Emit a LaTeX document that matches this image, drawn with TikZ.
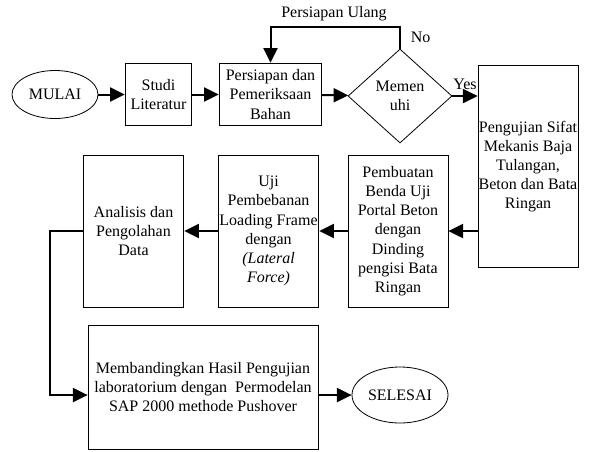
\documentclass[tikz,border=0pt]{standalone}
\usepackage{fontspec}
\setmainfont{Liberation Serif}
\usetikzlibrary{positioning, arrows.meta, shapes.geometric, calc}
\definecolor{garisHitam}{RGB}{0, 0, 0}
\tikzset{
  proses/.style={
    draw=garisHitam,
    line width=0.6pt,
    inner sep=0pt,
    align=center,
    font=\fontsize{12}{14.4}\selectfont
  },
  terminal/.style={
    ellipse,
    draw=garisHitam,
    line width=0.6pt,
    inner sep=0pt,
    font=\fontsize{12}{14.4}\selectfont
  },
  keputusan/.style={
    diamond,
    draw=garisHitam,
    line width=0.6pt,
    inner sep=0pt,
    align=center,
    font=\fontsize{12}{14.4}\selectfont
  },
  panah/.style={
    -{Triangle[length=11pt, width=10.5pt]},
    line width=1.5pt,
    draw=garisHitam
  },
  label teks/.style={
    font=\fontsize{12}{14.4}\selectfont
  }
}

\begin{document}
\begin{tikzpicture}[x=0.75pt, y=-0.75pt]
      \useasboundingbox (0,0) rectangle (590,451);

      % Baris atas
      \node[terminal, minimum width=64.5pt, minimum height=36pt] (mulai) at (55,94.5) {MULAI};
      \node[proses, minimum width=50pt, minimum height=47pt] (studi) at (158.5,94.5) {Studi\\Literatur};
      \node[proses, minimum width=77pt, minimum height=47pt] (persiapan) at (270.5,94.5) {Persiapan dan\\Pemeriksaan\\Bahan};
      \node[keputusan, minimum width=78pt, minimum height=70.5pt] (memenuhi) at (400,96) {Memen\\uhi};
      \node[proses, minimum width=75pt, minimum height=152pt] (pengujian) at (528,166.5) {Pengujian Sifat\\Mekanis Baja\\Tulangan,\\Beton dan Bata\\Ringan};

      % Baris tengah
      \node[proses, minimum width=75pt, minimum height=114pt] (pembuatan) at (398,231) {Pembuatan\\Benda Uji\\Portal Beton\\dengan\\Dinding\\pengisi Bata\\Ringan};
      \node[proses, minimum width=75.5pt, minimum height=114pt] (uji) at (268.5,231) {Uji\\Pembebanan\\Loading Frame\\dengan\\\textit{(Lateral}\\\textit{Force)}};
      \node[proses, minimum width=75.5pt, minimum height=114pt] (analisis) at (133.5,231) {Analisis dan\\Pengolahan\\Data};

      % Baris bawah
      \node[proses, minimum width=172.5pt, minimum height=93pt] (banding) at (203,387) {Membandingkan Hasil Pengujian\\laboratorium dengan~ Permodelan\\SAP 2000 methode Pushover};
      \node[terminal, minimum width=72pt, minimum height=42pt] (selesai) at (400,395) {SELESAI};

      % Panah
      \draw[panah] (mulai) -- (studi);
      \draw[panah] (studi) -- (persiapan);
      \draw[panah] (persiapan) -- (memenuhi);
      \draw[panah] (memenuhi.east) -- (memenuhi.east -| pengujian.west) node[label teks, midway, above=1pt] {Yes};
      \draw[panah] (memenuhi.north) -- ++(0,-22) node[label teks, below right=0pt and 4pt] {No} -| (persiapan.north);
      \node[label teks] (ulang) at (334,14) {Persiapan Ulang};
      \draw[panah] (pengujian.west |- pembuatan) -- (pembuatan.east);
      \draw[panah] (pembuatan) -- (uji);
      \draw[panah] (uji) -- (analisis);
      \draw[panah] (analisis.west) -- ++(-33,0) |- ($(banding.west)+(0,8)$);
      \draw[panah] (banding.east |- selesai.west) -- (selesai.west);
    \end{tikzpicture}
\end{document}
